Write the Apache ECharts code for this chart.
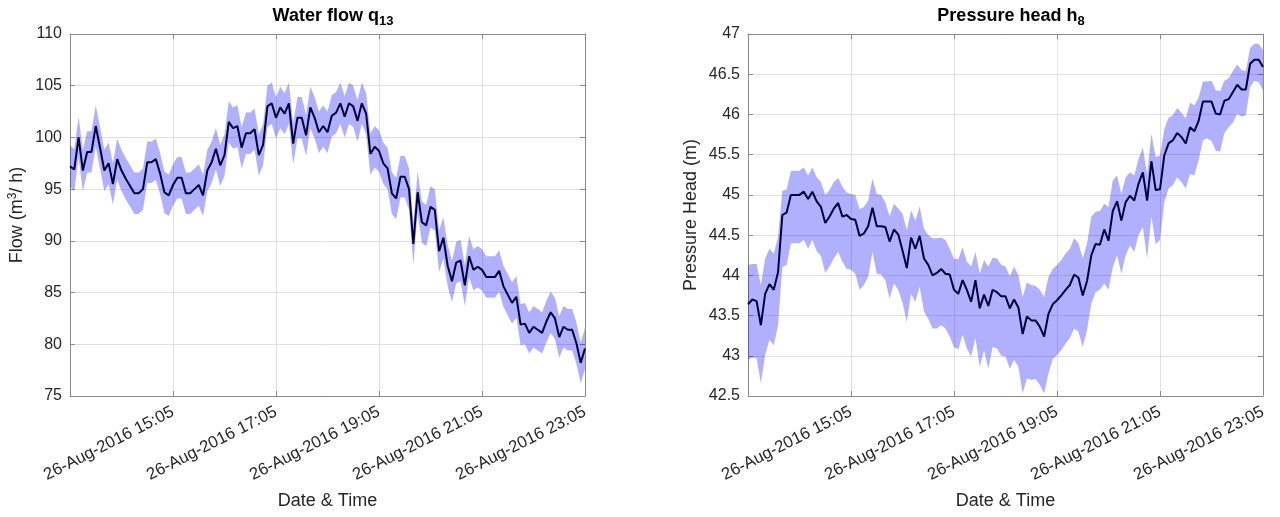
<!DOCTYPE html>
<html><head><meta charset="utf-8">
<script src="https://cdn.jsdelivr.net/npm/echarts@6/dist/echarts.min.js"></script>
<style>html,body{margin:0;padding:0;background:#fff}#c{width:1280px;height:517px}</style>
</head><body><div id="c"></div>
<script>
// sampling: every 5 minutes from 26-Aug-2016 13:05 to 23:05 (x = minutes after 13:05)
const stepMinutes = 5;
const tickLabels = ['26-Aug-2016 15:05', '26-Aug-2016 17:05', '26-Aug-2016 19:05', '26-Aug-2016 21:05', '26-Aug-2016 23:05'];

const flowMean = [
  97.2, 96.9, 100.0, 96.8, 98.6, 98.6, 101.1, 99.0, 96.8, 97.5,
  95.5, 97.9, 96.8, 96.0, 95.3, 94.6, 94.6, 95.0, 97.6, 97.6,
  97.9, 96.5, 94.7, 94.4, 95.4, 96.1, 96.1, 94.6, 94.6, 95.0,
  95.4, 94.4, 96.8, 97.6, 98.9, 97.3, 98.3, 101.5, 100.9, 101.1,
  99.0, 100.4, 100.4, 100.8, 98.3, 99.3, 103.0, 103.3, 101.9, 102.9,
  102.3, 103.3, 99.4, 101.9, 101.9, 100.2, 102.9, 101.9, 100.5, 101.1,
  100.5, 102.1, 102.4, 103.3, 102.0, 103.3, 103.0, 101.6, 103.3, 102.3,
  98.4, 99.1, 98.7, 97.5, 97.0, 94.6, 94.1, 96.2, 96.2, 95.0,
  89.7, 94.7, 91.8, 91.5, 93.3, 93.0, 89.0, 90.3, 87.6, 86.1,
  87.9, 88.1, 85.7, 88.5, 87.2, 87.5, 87.2, 86.5, 86.5, 86.5,
  87.1, 85.6, 84.8, 84.0, 84.6, 81.9, 82.0, 81.1, 81.7, 81.4,
  81.1, 82.2, 83.1, 82.5, 80.7, 81.7, 81.4, 81.4, 80.1, 78.2,
  79.6
];
const flowUpper = [
  99.2, 98.9, 102.0, 98.8, 100.6, 100.6, 103.1, 101.0, 98.8, 99.5,
  97.5, 99.9, 98.8, 98.0, 97.3, 96.6, 96.6, 97.0, 99.6, 99.6,
  99.9, 98.5, 96.7, 96.4, 97.4, 98.1, 98.1, 96.6, 96.6, 97.0,
  97.4, 96.4, 98.8, 99.6, 100.9, 99.3, 100.3, 103.5, 102.9, 103.1,
  101.0, 102.4, 102.4, 102.8, 100.3, 101.3, 105.0, 105.3, 103.9, 104.9,
  104.3, 105.3, 101.4, 103.9, 103.9, 102.2, 104.9, 103.9, 102.5, 103.1,
  102.5, 104.1, 104.4, 105.3, 104.0, 105.3, 105.0, 103.6, 105.3, 104.3,
  100.4, 101.1, 100.7, 99.5, 99.0, 96.6, 96.1, 98.2, 98.2, 97.0,
  91.7, 96.7, 93.8, 93.5, 95.3, 95.0, 91.0, 92.3, 89.6, 88.1,
  89.9, 90.1, 87.7, 90.5, 89.2, 89.5, 89.2, 88.5, 88.5, 88.5,
  89.1, 87.6, 86.8, 86.0, 86.6, 83.9, 84.0, 83.1, 83.7, 83.4,
  83.1, 84.2, 85.1, 84.5, 82.7, 83.7, 83.4, 83.4, 82.1, 80.2,
  81.6
];
const flowLower = [
  95.2, 94.9, 98.0, 94.8, 96.6, 96.6, 99.1, 97.0, 94.8, 95.5,
  93.5, 95.9, 94.8, 94.0, 93.3, 92.6, 92.6, 93.0, 95.6, 95.6,
  95.9, 94.5, 92.7, 92.4, 93.4, 94.1, 94.1, 92.6, 92.6, 93.0,
  93.4, 92.4, 94.8, 95.6, 96.9, 95.3, 96.3, 99.5, 98.9, 99.1,
  97.0, 98.4, 98.4, 98.8, 96.3, 97.3, 101.0, 101.3, 99.9, 100.9,
  100.3, 101.3, 97.4, 99.9, 99.9, 98.2, 100.9, 99.9, 98.5, 99.1,
  98.5, 100.1, 100.4, 101.3, 100.0, 101.3, 101.0, 99.6, 101.3, 100.3,
  96.4, 97.1, 96.7, 95.5, 95.0, 92.6, 92.1, 94.2, 94.2, 93.0,
  87.7, 92.7, 89.8, 89.5, 91.3, 91.0, 87.0, 88.3, 85.6, 84.1,
  85.9, 86.1, 83.7, 86.5, 85.2, 85.5, 85.2, 84.5, 84.5, 84.5,
  85.1, 83.6, 82.8, 82.0, 82.6, 79.9, 80.0, 79.1, 79.7, 79.4,
  79.1, 80.2, 81.1, 80.5, 78.7, 79.7, 79.4, 79.4, 78.1, 76.2,
  77.6
];

const headMean = [
  43.64, 43.70, 43.68, 43.38, 43.77, 43.89, 43.82, 44.04, 44.75, 44.78,
  45.00, 45.00, 45.00, 45.04, 44.95, 45.04, 44.92, 44.85, 44.65, 44.73,
  44.83, 44.90, 44.73, 44.75, 44.70, 44.69, 44.49, 44.52, 44.61, 44.84,
  44.61, 44.61, 44.60, 44.42, 44.57, 44.51, 44.31, 44.09, 44.47, 44.33,
  44.49, 44.21, 44.13, 44.00, 44.03, 44.08, 44.02, 44.01, 43.82, 43.77,
  43.94, 43.82, 43.67, 43.94, 43.59, 43.76, 43.62, 43.82, 43.79, 43.74,
  43.74, 43.59, 43.70, 43.60, 43.27, 43.49, 43.44, 43.44, 43.36, 43.24,
  43.52, 43.64, 43.69, 43.75, 43.82, 43.88, 44.01, 43.97, 43.75, 43.93,
  44.25, 44.39, 44.38, 44.57, 44.43, 44.80, 44.92, 44.68, 44.91, 44.99,
  44.93, 45.14, 45.28, 44.93, 45.42, 45.06, 45.07, 45.49, 45.64, 45.68,
  45.77, 45.72, 45.64, 45.84, 45.79, 45.92, 46.16, 46.16, 46.16, 46.01,
  46.00, 46.17, 46.19, 46.28, 46.37, 46.31, 46.31, 46.63, 46.68, 46.68,
  46.59
];
const headUpper = [
  44.13, 44.14, 44.14, 43.88, 44.21, 44.33, 44.27, 44.48, 45.05, 45.07,
  45.30, 45.30, 45.30, 45.34, 45.24, 45.34, 45.22, 45.16, 45.00, 45.06,
  45.16, 45.21, 45.10, 45.03, 45.01, 45.00, 44.82, 44.85, 44.93, 45.20,
  45.01, 45.00, 44.91, 44.73, 44.89, 44.83, 44.77, 44.56, 44.81, 44.68,
  44.86, 44.58, 44.50, 44.46, 44.46, 44.47, 44.44, 44.33, 44.21, 44.20,
  44.35, 44.17, 44.11, 44.29, 44.02, 44.19, 44.11, 44.22, 44.21, 44.13,
  44.11, 43.99, 44.11, 44.00, 43.73, 43.91, 43.88, 43.87, 43.82, 43.73,
  43.98, 44.08, 44.13, 44.19, 44.27, 44.33, 44.46, 44.40, 44.21, 44.40,
  44.73, 44.79, 44.80, 44.89, 44.85, 45.18, 45.24, 45.01, 45.22, 45.28,
  45.24, 45.45, 45.59, 45.26, 45.76, 45.47, 45.49, 45.82, 45.96, 45.99,
  46.08, 46.02, 45.95, 46.15, 46.11, 46.21, 46.41, 46.41, 46.42, 46.30,
  46.29, 46.42, 46.45, 46.54, 46.62, 46.55, 46.54, 46.83, 46.88, 46.88,
  46.80
];
const headLower = [
  42.95, 42.98, 42.97, 42.66, 43.01, 43.20, 43.13, 43.38, 44.10, 44.13,
  44.40, 44.40, 44.40, 44.44, 44.33, 44.44, 44.30, 44.24, 44.03, 44.11,
  44.21, 44.29, 44.17, 44.08, 44.07, 44.02, 43.82, 43.88, 43.98, 44.29,
  44.02, 44.01, 43.94, 43.71, 43.90, 43.82, 43.66, 43.42, 43.77, 43.67,
  43.86, 43.55, 43.46, 43.34, 43.34, 43.38, 43.34, 43.24, 43.11, 43.08,
  43.26, 43.09, 42.99, 43.22, 42.86, 43.07, 42.84, 43.11, 43.09, 43.00,
  42.99, 42.84, 42.95, 42.86, 42.53, 42.72, 42.70, 42.71, 42.64, 42.53,
  42.78, 42.96, 43.01, 43.07, 43.15, 43.22, 43.34, 43.30, 43.11, 43.32,
  43.65, 43.79, 43.82, 43.90, 43.82, 44.10, 44.25, 44.02, 44.25, 44.37,
  44.29, 44.50, 44.60, 44.21, 44.73, 44.39, 44.44, 44.91, 45.08, 45.12,
  45.22, 45.16, 45.08, 45.26, 45.24, 45.43, 45.68, 45.70, 45.67, 45.55,
  45.54, 45.77, 45.84, 45.90, 46.01, 45.97, 45.99, 46.34, 46.42, 46.40,
  46.30
];

const FONT = '"Liberation Sans", Arial, Helvetica, sans-serif';
const TXT = '#262626';
const AX = '#8a8a8a';
const BAND = 'rgba(0,0,255,0.31)';
const LINE = '#00003c';

const minutes = flowMean.map((_, i) => i * stepMinutes);
const pairs = arr => arr.map((v, i) => [minutes[i], v]);

function xAxes(gi) {
  const common = {
    type: 'value', gridIndex: gi, min: 0, max: 600, interval: 120,
    axisLine: { show: true, onZero: false, lineStyle: { color: AX, width: 1 } },
    axisTick: { show: true, inside: true, length: 5, lineStyle: { color: AX } }
  };
  return [
    Object.assign({}, common, {
      position: 'bottom',
      name: 'Date & Time', nameLocation: 'middle', nameGap: 96,
      nameTextStyle: { fontFamily: FONT, fontSize: 18, color: TXT },
      splitLine: { show: true, lineStyle: { color: '#dfdfdf', width: 1 } },
      axisLabel: {
        show: true, rotate: 27, margin: 15, fontFamily: FONT, fontSize: 16.8, color: TXT,
        showMinLabel: true, showMaxLabel: true,
        formatter: v => (v === 0 ? '' : tickLabels[Math.round(v / 120) - 1])
      }
    }),
    Object.assign({}, common, {
      position: 'top', axisLabel: { show: false }, splitLine: { show: false }
    })
  ];
}
function yAxes(gi, min, max, interval, name, gap) {
  const common = {
    type: 'value', gridIndex: gi, min, max, interval,
    axisLine: { show: true, onZero: false, lineStyle: { color: AX, width: 1 } },
    axisTick: { show: true, inside: true, length: 5, lineStyle: { color: AX } }
  };
  return [
    Object.assign({}, common, {
      position: 'left',
      name, nameLocation: 'middle', nameGap: gap,
      nameTextStyle: {
        fontFamily: FONT, fontSize: 18, color: TXT,
        rich: { sup: { fontFamily: FONT, fontSize: 12, color: TXT, padding: [0, 0, 9, 0] } }
      },
      splitLine: { show: true, lineStyle: { color: '#dfdfdf', width: 1 } },
      axisLabel: { show: true, margin: 8, fontFamily: FONT, fontSize: 16, color: TXT }
    }),
    Object.assign({}, common, {
      position: 'right', axisLabel: { show: false }, splitLine: { show: false }
    })
  ];
}
function bandSeries(xi, yi, up, lo) {
  // one polygon through the upper edge and back along the lower edge
  return {
    type: 'custom', xAxisIndex: xi, yAxisIndex: yi, silent: true, clip: true, z: 1,
    data: [[minutes[0], lo[0]]],
    renderItem: (params, api) => {
      const pts = [];
      for (let i = 0; i < up.length; i++) pts.push(api.coord([minutes[i], up[i]]));
      for (let i = lo.length - 1; i >= 0; i--) pts.push(api.coord([minutes[i], lo[i]]));
      return { type: 'polygon', shape: { points: pts }, style: { fill: BAND, stroke: null } };
    }
  };
}
function panelSeries(xi, yi, mean, up, lo) {
  return [
    bandSeries(xi, yi, up, lo),
    { type: 'line', xAxisIndex: xi, yAxisIndex: yi, data: pairs(mean),
      symbol: 'none', silent: true, lineStyle: { color: LINE, width: 2 }, z: 3 }
  ];
}

const titleRich = {
  sub: { fontFamily: FONT, fontSize: 13, fontWeight: 'bold', color: '#000', padding: [10, 0, 0, 0] }
};
const option = {
  backgroundColor: '#fff',
  animation: false,
  title: [
    { text: 'Water flow q{sub|13}', left: 328, top: 0, textAlign: 'center',
      textStyle: { fontFamily: FONT, fontSize: 18, fontWeight: 'bold', color: '#000', rich: titleRich } },
    { text: 'Pressure head h{sub|8}', left: 1006, top: 0, textAlign: 'center',
      textStyle: { fontFamily: FONT, fontSize: 18, fontWeight: 'bold', color: '#000', rich: titleRich } }
  ],
  grid: [
    { left: 70, top: 34, width: 515, height: 362 },
    { left: 748, top: 34, width: 515, height: 362 }
  ],
  xAxis: [...xAxes(0), ...xAxes(1)],
  yAxis: [
    ...yAxes(0, 75, 110, 5, 'Flow (m{sup|3}/ h)', 42),
    ...yAxes(1, 42.5, 47, 0.5, 'Pressure Head (m)', 48)
  ],
  series: [
    ...panelSeries(0, 0, flowMean, flowUpper, flowLower),
    ...panelSeries(2, 2, headMean, headUpper, headLower)
  ]
};
const chart = echarts.init(document.getElementById('c'), null, { renderer: 'canvas' });
chart.setOption(option);
</script>
</body></html>
